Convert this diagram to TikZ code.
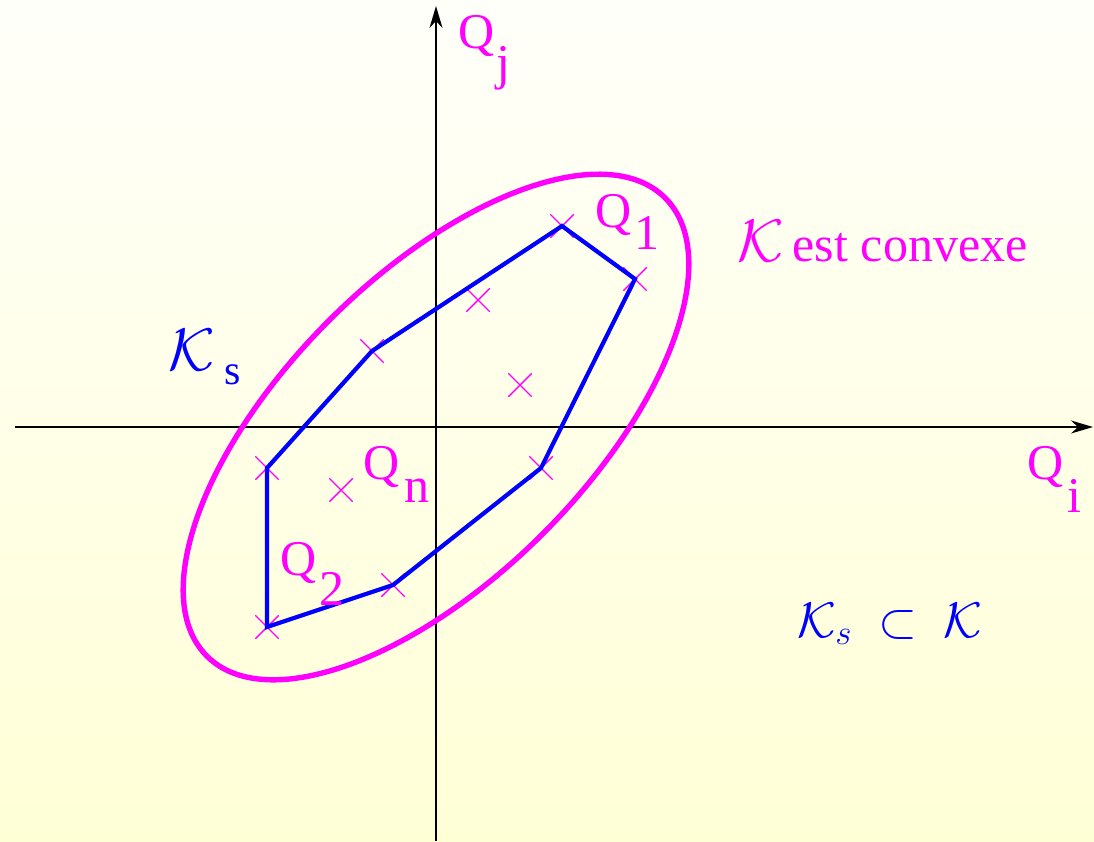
\RequirePackage{fix-cm}
\documentclass[tikz,border=0pt]{standalone}
\definecolor{pointmagenta}{RGB}{255,0,255}
\definecolor{hullblue}{RGB}{0,0,255}
\definecolor{paletop}{RGB}{255,255,250}
\definecolor{palebottom}{RGB}{255,255,214}
\usepackage{amsmath,amssymb}
\usepackage{fontspec}
\setmainfont{Liberation Serif}
\newfontfamily\labelfont{Liberation Serif}
\usetikzlibrary{shapes,arrows.meta,positioning,calc}

\newcommand{\bigK}{{\fontsize{60}{60}\selectfont$\mathcal{K}$}}

\begin{document}
\begin{tikzpicture}[x=1pt,y=-1pt,
    axis/.style={line width=1.5pt,-{Stealth[length=22pt,width=13pt,inset=7pt]}},
    ptmark/.style={cross out,draw=pointmagenta,line width=1.4pt,minimum size=22pt,inner sep=0pt},
    qlabel/.style={text=pointmagenta,font=\labelfont\fontsize{50}{50}\selectfont,inner sep=0pt,anchor=base west}]
    \useasboundingbox (0,0) rectangle (1094,841);
    \shade[top color=paletop,bottom color=palebottom] (0,0) rectangle (1094,841);

    % axes
    \coordinate (xstart) at (15,427);
    \coordinate (xend) at (1093,427);
    \coordinate (ystart) at (436,841);
    \coordinate (yend) at (436,6);
    \draw[axis] (xstart) -- (xend);
    \draw[axis] (ystart) -- (yend);

    % convex set K
    \node[ellipse,draw=pointmagenta,line width=5.4pt,minimum width=648pt,minimum height=302pt,rotate=45] (convK) at (436,427) {};

    % points
    \node[ptmark] (q1) at (562,226) {};
    \node[ptmark] (v2) at (635,279) {};
    \node[ptmark] (v3) at (541,468) {};
    \node[ptmark] (v4) at (393,585) {};
    \node[ptmark] (q2) at (267,627) {};
    \node[ptmark] (v6) at (267,468) {};
    \node[ptmark] (v7) at (372,351) {};
    \node[ptmark] (in1) at (478,300) {};
    \node[ptmark] (in2) at (520,385) {};
    \node[ptmark] (qn) at (341,490) {};

    % hull K_s
    \draw[hullblue,line width=4.2pt,line join=miter] (q1.center) -- (v2.center) -- (v3.center) -- (v4.center)
        -- (q2.center) -- (v6.center) -- (v7.center) -- cycle;

    % labels
    \node[qlabel] (lqj) at (458,48) {Q\kern2pt\raisebox{-31pt}{j}};
    \node[qlabel] (lqi) at (1027,479) {Q\kern4pt\raisebox{-33pt}{i}};
    \node[qlabel] (lq1) at (595,227) {Q\kern3pt\raisebox{-22pt}{1}};
    \node[qlabel] (lqn) at (363,479) {Q\kern5pt\raisebox{-23pt}{n}};
    \node[qlabel] (lq2) at (280,575) {Q\kern3pt\raisebox{-30pt}{2}};
    \node[qlabel] (lconv) at (737,261) {\bigK\kern9pt est convexe};
    \node[qlabel,text=hullblue] (lks) at (168,370) {\bigK\kern10pt\raisebox{-14pt}{\fontsize{42}{42}\selectfont s}};
    \node[qlabel,text=hullblue,font=\labelfont\fontsize{50}{50}\selectfont] (lincl) at (797,637) {$\mathcal{K}_s\ \subset\ \mathcal{K}$};
\end{tikzpicture}
\end{document}
